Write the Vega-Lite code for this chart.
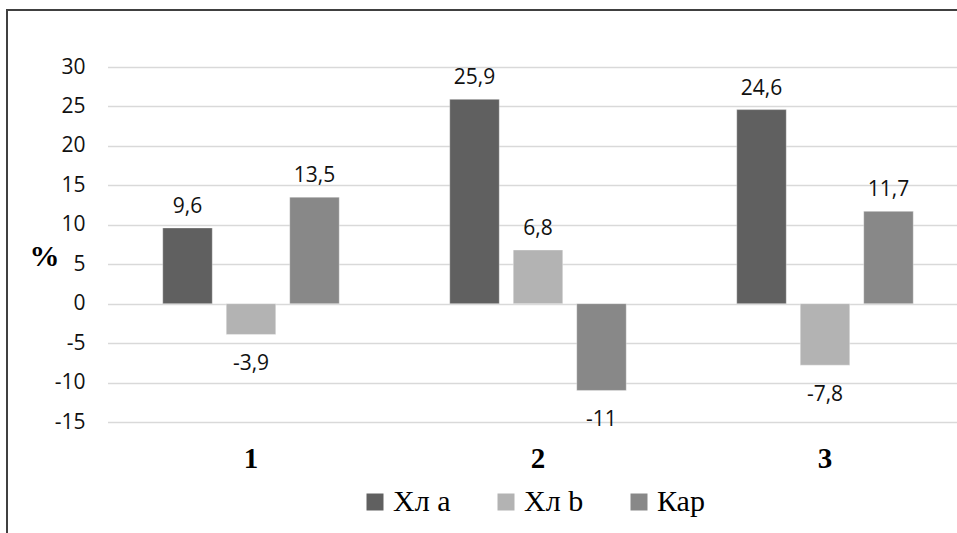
{
  "$schema": "https://vega.github.io/schema/vega-lite/v6.json",
  "autosize": {"type": "none"},
  "padding": {"left": 7, "top": 10, "right": 0, "bottom": 0},
  "width": 950,
  "height": 523,
  "background": "white",
  "config": {
    "locale": {"number": {"decimal": ",", "thousands": " ", "grouping": [3], "currency": ["", ""], "minus": "-"}},
    "view": {"stroke": "#404040", "strokeWidth": 2, "strokeDash": [950, 1473, 524, 0]}
  },
  "data": {
    "values": [
      {"group": "1", "series": "Хл a", "value": 9.6},
      {"group": "1", "series": "Хл b", "value": -3.9},
      {"group": "1", "series": "Кар", "value": 13.5},
      {"group": "2", "series": "Хл a", "value": 25.9},
      {"group": "2", "series": "Хл b", "value": 6.8},
      {"group": "2", "series": "Кар", "value": -11},
      {"group": "3", "series": "Хл a", "value": 24.6},
      {"group": "3", "series": "Хл b", "value": -7.8},
      {"group": "3", "series": "Кар", "value": 11.7}
    ]
  },
  "encoding": {
    "x": {
      "field": "group", "type": "nominal", "sort": ["1", "2", "3"],
      "scale": {"range": [100.5, 961.5], "paddingInner": 0, "paddingOuter": 0},
      "axis": {
        "title": null, "labelAngle": 0, "domain": false, "ticks": false, "grid": false,
        "offset": -103, "labelPadding": 14,
        "labelFont": "Liberation Serif", "labelFontWeight": "bold", "labelFontSize": 29, "labelColor": "#000000"
      }
    },
    "xOffset": {
      "field": "series", "type": "nominal", "sort": ["Хл a", "Хл b", "Кар"],
      "scale": {"paddingInner": 0.22, "paddingOuter": 0.87}
    },
    "y": {
      "field": "value", "type": "quantitative",
      "scale": {"domain": [-15, 30], "range": [412, 57], "nice": false, "zero": false},
      "axis": {
        "values": [-15, -10, -5, 0, 5, 10, 15, 20, 25, 30],
        "domain": false, "ticks": false, "grid": true, "gridColor": "#d9d9d9", "gridWidth": 1.3,
        "offset": -100.5, "labelPadding": 22.5,
        "labelFont": "Open Sans", "labelFontSize": 21, "labelColor": "#111111",
        "title": "%", "titleAngle": 0, "titleX": -63.5, "titleY": 246,
        "titleAlign": "center", "titleBaseline": "middle",
        "titleFont": "Liberation Serif", "titleFontWeight": "bold", "titleFontSize": 30, "titleColor": "#000000"
      }
    }
  },
  "layer": [
    {
      "mark": {"type": "bar", "stroke": "white", "strokeOpacity": 0.35, "strokeWidth": 1},
      "encoding": {
        "color": {
          "field": "series", "type": "nominal",
          "scale": {"domain": ["Хл a", "Хл b", "Кар"], "range": ["#606060", "#b3b3b3", "#888888"]},
          "legend": {
            "title": null, "orient": "none", "direction": "horizontal",
            "legendX": 353, "legendY": 477,
            "symbolType": "square", "symbolSize": 289, "symbolStrokeWidth": 0,
            "labelFont": "Liberation Serif", "labelFontSize": 30, "labelColor": "#000000",
            "labelOffset": 3, "columnPadding": 40
          }
        }
      }
    },
    {
      "transform": [{"filter": "datum.value > 0"}],
      "mark": {"type": "text", "baseline": "alphabetic", "dy": -15, "font": "Open Sans", "fontSize": 21, "color": "#111111"},
      "encoding": {"text": {"field": "value", "type": "quantitative", "format": ".3~g"}}
    },
    {
      "transform": [{"filter": "datum.value < 0"}],
      "mark": {"type": "text", "baseline": "alphabetic", "dy": 35.5, "font": "Open Sans", "fontSize": 21, "color": "#111111"},
      "encoding": {"text": {"field": "value", "type": "quantitative", "format": ".3~g"}}
    }
  ]
}
